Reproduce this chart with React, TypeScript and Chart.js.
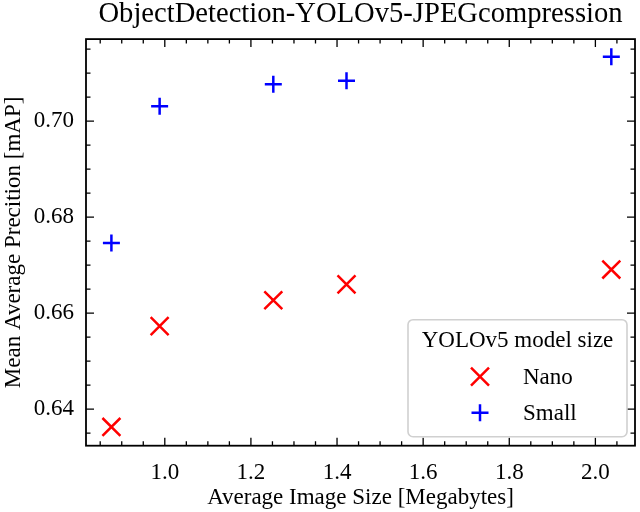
import React, { useEffect, useRef } from 'react';
import { Chart, registerables } from 'chart.js';

Chart.register(...registerables);

const TITLE = 'ObjectDetection-YOLOv5-JPEGcompression';
const X_LABEL = 'Average Image Size [Megabytes]';
const Y_LABEL = 'Mean Average Precition [mAP]';
const LEGEND_TITLE = 'YOLOv5 model size';
const SERIES_NAMES = ['Nano', 'Small'];

const imageSizes = [0.876, 0.988, 1.252, 1.422, 2.037];
const nanoMAP = [0.6363, 0.6573, 0.6627, 0.666, 0.6691];
const smallMAP = [0.6746, 0.7031, 0.7077, 0.7084, 0.7134];

const xTicks = [1.0, 1.2, 1.4, 1.6, 1.8, 2.0];
const yTicks = [0.64, 0.66, 0.68, 0.7];
const xMinorStep = 0.05;
const yMinorStep = 0.005;

const FONT = "'Liberation Serif', 'Times New Roman', serif";

function drawMarker(ctx: CanvasRenderingContext2D, kind: string, cx: number, cy: number, color: string) {
  ctx.save();
  ctx.strokeStyle = color;
  ctx.lineWidth = 2.5;
  ctx.beginPath();
  if (kind === 'x') {
    const h = 9;
    ctx.moveTo(cx - h, cy - h);
    ctx.lineTo(cx + h, cy + h);
    ctx.moveTo(cx - h, cy + h);
    ctx.lineTo(cx + h, cy - h);
  } else {
    const h = 8.5;
    ctx.moveTo(cx - h, cy);
    ctx.lineTo(cx + h, cy);
    ctx.moveTo(cx, cy - h);
    ctx.lineTo(cx, cy + h);
  }
  ctx.stroke();
  ctx.restore();
}

const framePlugin = {
  id: 'framePlugin',
  afterDraw(chart: any) {
    const { ctx, chartArea: a, scales } = chart;
    const xs = scales.x;
    const ys = scales.y;
    ctx.save();
    ctx.strokeStyle = '#000';
    ctx.lineWidth = 1.3;
    const isMajor = (v: number, arr: number[]) => arr.some((t) => Math.abs(t - v) < 1e-6);
    const xTick = (v: number, len: number) => {
      const px = xs.getPixelForValue(v);
      ctx.beginPath();
      ctx.moveTo(px, a.bottom);
      ctx.lineTo(px, a.bottom - len);
      ctx.moveTo(px, a.top);
      ctx.lineTo(px, a.top + len);
      ctx.stroke();
    };
    const yTick = (v: number, len: number) => {
      const py = ys.getPixelForValue(v);
      ctx.beginPath();
      ctx.moveTo(a.left, py);
      ctx.lineTo(a.left + len, py);
      ctx.moveTo(a.right, py);
      ctx.lineTo(a.right - len, py);
      ctx.stroke();
    };
    for (let k = Math.ceil(xs.min / xMinorStep - 1e-9); k * xMinorStep <= xs.max + 1e-9; k++) {
      const v = k * xMinorStep;
      xTick(v, isMajor(v, xTicks) ? 8 : 4.5);
    }
    for (let k = Math.ceil(ys.min / yMinorStep - 1e-9); k * yMinorStep <= ys.max + 1e-9; k++) {
      const v = k * yMinorStep;
      yTick(v, isMajor(v, yTicks) ? 8 : 4.5);
    }
    ctx.lineWidth = 1.8;
    ctx.strokeRect(a.left, a.top, a.right - a.left, a.bottom - a.top);

    // legend
    const w = 219;
    const h = 117;
    const bx = a.right - 8 - w;
    const by = a.bottom - 9 - h;
    const r = 5;
    ctx.beginPath();
    ctx.moveTo(bx + r, by);
    ctx.lineTo(bx + w - r, by);
    ctx.arcTo(bx + w, by, bx + w, by + r, r);
    ctx.lineTo(bx + w, by + h - r);
    ctx.arcTo(bx + w, by + h, bx + w - r, by + h, r);
    ctx.lineTo(bx + r, by + h);
    ctx.arcTo(bx, by + h, bx, by + h - r, r);
    ctx.lineTo(bx, by + r);
    ctx.arcTo(bx, by, bx + r, by, r);
    ctx.closePath();
    ctx.fillStyle = 'rgba(255,255,255,0.8)';
    ctx.fill();
    ctx.strokeStyle = '#d0d0d0';
    ctx.lineWidth = 1.6;
    ctx.stroke();

    ctx.fillStyle = '#000';
    ctx.font = `23px ${FONT}`;
    ctx.textBaseline = 'middle';
    ctx.textAlign = 'center';
    ctx.fillText(LEGEND_TITLE, bx + w / 2, by + 21);
    ctx.textAlign = 'left';
    const rows = [
      { name: SERIES_NAMES[0], kind: 'x', color: 'red', y: by + 57 },
      { name: SERIES_NAMES[1], kind: '+', color: 'blue', y: by + 93 },
    ];
    rows.forEach((row) => {
      drawMarker(ctx, row.kind, bx + 72, row.y, row.color);
      ctx.fillStyle = '#000';
      ctx.fillText(row.name, bx + 115, row.y + 1);
    });
    ctx.restore();
  },
};

export default function App() {
  const ref = useRef<HTMLCanvasElement | null>(null);
  useEffect(() => {
    if (!ref.current) return;
    const chart = new Chart(ref.current, {
      type: 'scatter',
      data: {
        datasets: [
          {
            label: SERIES_NAMES[0],
            data: imageSizes.map((x, i) => ({ x, y: nanoMAP[i] })),
            pointStyle: 'crossRot',
            pointRadius: 12.7,
            pointBorderWidth: 2.5,
            borderColor: 'red',
            backgroundColor: 'red',
          },
          {
            label: SERIES_NAMES[1],
            data: imageSizes.map((x, i) => ({ x, y: smallMAP[i] })),
            pointStyle: 'cross',
            pointRadius: 8.5,
            pointBorderWidth: 2.5,
            borderColor: 'blue',
            backgroundColor: 'blue',
          },
        ],
      },
      options: {
        responsive: false,
        animation: false,
        layout: { autoPadding: false, padding: { left: 0, right: 5, top: 0, bottom: 0 } },
        plugins: {
          legend: { display: false },
          tooltip: { enabled: false },
          title: {
            display: true,
            text: TITLE,
            fullSize: false,
            color: '#000',
            font: { family: FONT, size: 28.6, weight: 'normal', lineHeight: 1 },
            padding: { top: 0.5, bottom: 10 },
          },
        },
        scales: {
          x: {
            type: 'linear',
            min: 0.817,
            max: 2.092,
            grid: { display: false, drawTicks: false },
            border: { display: false },
            afterFit: (s: any) => {
              s.height = 66.3;
              s.paddingLeft = 0;
              s.paddingRight = 0;
            },
            afterBuildTicks: (s: any) => {
              s.ticks = xTicks.map((v) => ({ value: v }));
            },
            ticks: {
              color: '#000',
              padding: 13,
              maxRotation: 0,
              font: { family: FONT, size: 23 },
              callback: (v: any) => Number(v).toFixed(1),
            },
            title: {
              display: true,
              text: X_LABEL,
              color: '#000',
              font: { family: FONT, size: 23 },
              padding: { top: 0, bottom: 0 },
            },
          },
          y: {
            type: 'linear',
            min: 0.6324,
            max: 0.7171,
            grid: { display: false, drawTicks: false },
            border: { display: false },
            afterFit: (s: any) => {
              s.width = 86;
              s.paddingTop = 0;
              s.paddingBottom = 0;
            },
            afterBuildTicks: (s: any) => {
              s.ticks = yTicks.map((v) => ({ value: v }));
            },
            ticks: {
              color: '#000',
              padding: 12,
              font: { family: FONT, size: 23 },
              callback: (v: any) => Number(v).toFixed(2),
            },
            title: {
              display: true,
              text: Y_LABEL,
              color: '#000',
              font: { family: FONT, size: 23 },
              padding: { top: 0, bottom: 0 },
            },
          },
        },
      },
      plugins: [framePlugin],
    });
    return () => chart.destroy();
  }, []);
  return (
    <div style={{ position: 'fixed', left: 0, top: 0, width: 640, height: 512, background: '#fff' }}>
      <canvas ref={ref} width={640} height={512} style={{ display: 'block' }} />
    </div>
  );
}
